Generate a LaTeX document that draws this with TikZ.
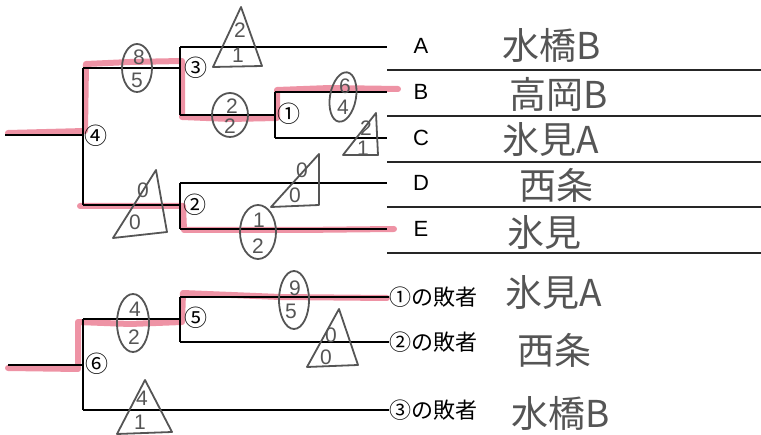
\documentclass[tikz,border=0pt]{standalone}
\usepackage{fontspec}
\setmainfont{Liberation Sans}
\newfontfamily\jp{Noto Sans CJK JP}
\definecolor{pinkhl}{RGB}{234,120,142}
\definecolor{handgray}{RGB}{85,85,85}
\begin{document}
\begin{tikzpicture}[x=1pt,y=-1pt,
  br/.style={line width=1.4pt, black},
  rule/.style={line width=1.5pt, black!85},
  hl/.style={line width=6pt, pinkhl, opacity=0.8, line cap=round, line join=round},
  hand/.style={line width=1.8pt, handgray, line join=round, line cap=round},
  cn/.style={font=\jp\fontsize{23}{23}\selectfont, inner sep=0pt},
  lab/.style={font=\fontsize{22}{22}\selectfont, inner sep=0pt},
  jlab/.style={font=\jp\fontsize{22}{22}\selectfont, anchor=west, inner sep=0pt},
  htext/.style={font=\jp\fontsize{37}{37}\selectfont, text=handgray, inner sep=0pt},
  sc/.style={font=\fontsize{21}{21}\selectfont, text=handgray, inner sep=0pt}]
\useasboundingbox (0,0) rectangle (761,435);

% ---------- highlight (winner paths) ----------
\draw[hl] (8,133) -- (85,131) -- (86,64) -- (130,62) -- (182,61) -- (182,117) -- (230,119) -- (277,118) -- (277,90) -- (330,88) -- (398,89);
\draw[hl] (80,206) -- (183,206) -- (184,230) -- (300,230) -- (394,229);
\draw[hl] (8,368) -- (78,369) -- (78,322) -- (130,324) -- (182,322) -- (183,293) -- (280,297) -- (387,298);

% ---------- coordinates ----------
\coordinate (r4) at (5,135);
\coordinate (v4t) at (83,68);   \coordinate (v4b) at (83,205);
\coordinate (v3t) at (180,47);  \coordinate (v3m) at (180,68);  \coordinate (v3b) at (180,115);
\coordinate (v1t) at (275,92);  \coordinate (v1m) at (275,115); \coordinate (v1b) at (275,138);
\coordinate (v2t) at (180,183); \coordinate (v2m) at (180,205); \coordinate (v2b) at (180,229);
\coordinate (eA) at (387,47); \coordinate (eB) at (387,92); \coordinate (eC) at (387,138);
\coordinate (eD) at (387,183); \coordinate (eE) at (387,229);
\coordinate (r6) at (8,365);
\coordinate (v6t) at (83,319);  \coordinate (v6b) at (83,410);
\coordinate (v5t) at (180,297); \coordinate (v5m) at (180,319); \coordinate (v5b) at (180,342);

% ---------- upper bracket ----------
\draw[br] (r4) -- (83,135);
\draw[br] (v4t) -- (v4b);
\draw[br] (v4t) -- (v3m);
\draw[br] (v3t) -- (v3b);
\draw[br] (v3t) -- (eA);
\draw[br] (v3b) -- (v1m);
\draw[br] (v1t) -- (v1b);
\draw[br] (v1t) -- (eB);
\draw[br] (v1b) -- (eC);
\draw[br] (v4b) -- (v2m);
\draw[br] (v2t) -- (v2b);
\draw[br] (v2t) -- (eD);
\draw[br] (v2b) -- (eE);

\node[cn] (n4) at (96,136) {④};
\node[cn] (n3) at (196,68) {③};
\node[cn] (n1) at (289,114) {①};
\node[cn] (n2) at (195,205) {②};

% ruled lines
\foreach \yy/\nm in {70/ra,116/rb,162/rc,207/rd,253/re}{
  \coordinate (\nm l) at (387,\yy); \coordinate (\nm r) at (761,\yy);
  \draw[rule] (\nm l) -- (\nm r);
}

\node[lab] (lA) at (421,46) {A};
\node[lab] (lB) at (421,92) {B};
\node[lab] (lC) at (421,138) {C};
\node[lab] (lD) at (421,183) {D};
\node[lab] (lE) at (421,229) {E};

% ---------- lower bracket ----------
\draw[br] (r6) -- (83,365);
\draw[br] (v6t) -- (v6b);
\draw[br] (v6t) -- (v5m);
\draw[br] (v5t) -- (v5b);
\node[jlab] (w1) at (389,297) {①の敗者};
\node[jlab] (w2) at (389,342) {②の敗者};
\node[jlab] (w3) at (389,410) {③の敗者};
\draw[br] (v5t) -- (w1.west);
\draw[br] (v5b) -- (w2.west);
\draw[br] (v6b) -- (w3.west);
\node[cn] (n6) at (97,364) {⑥};
\node[cn] (n5) at (196,318) {⑤};

% ---------- handwritten score shapes ----------
\draw[hand] (137,68) ellipse [x radius=15pt, y radius=24pt];
\node[sc] (o1a) at (139,57) {8}; \node[sc] (o1b) at (137,80) {5};
\draw[hand] (230,115) ellipse [x radius=18pt, y radius=22pt];
\node[sc] (o2a) at (232,106) {2}; \node[sc] (o2b) at (230,126) {2};
\draw[hand, rotate around={-10:(343,97)}] (343,97) ellipse [x radius=13pt, y radius=25pt];
\node[sc] (o3a) at (345,86) {6}; \node[sc] (o3b) at (343,107) {4};
\draw[hand] (258,232) ellipse [x radius=18pt, y radius=27pt];
\node[sc] (o4a) at (259,220) {1}; \node[sc] (o4b) at (258,246) {2};
\draw[hand] (133,323) ellipse [x radius=16pt, y radius=29pt];
\node[sc] (o5a) at (135,309) {4}; \node[sc] (o5b) at (134,337) {2};
\draw[hand] (294,300) ellipse [x radius=15pt, y radius=29pt];
\node[sc] (o6a) at (295,288) {9}; \node[sc] (o6b) at (291,311) {5};

\draw[hand] (241,7) -- (262,66) -- (213,67) -- cycle;
\node[sc] (t1a) at (240,30) {2}; \node[sc] (t1b) at (238,55) {1};
\draw[hand] (376,113) -- (378,155) -- (343,155) -- cycle;
\node[sc] (t2a) at (366,128) {2}; \node[sc] (t2b) at (363,148) {1};
\draw[hand] (156,170) -- (167,232) -- (113,238) -- cycle;
\node[sc] (t3a) at (143,190) {0}; \node[sc] (t3b) at (135,222) {0};
\draw[hand] (319,154) -- (319,205) -- (271,207) -- cycle;
\node[sc] (t4a) at (302,170) {0}; \node[sc] (t4b) at (295,195) {0};
\draw[hand] (339,309) -- (358,365) -- (307,367) -- cycle;
\node[sc] (t5a) at (331,335) {0}; \node[sc] (t5b) at (326,357) {0};
\draw[hand] (145,380) -- (172,432) -- (117,434) -- cycle;
\node[sc] (t6a) at (142,398) {4}; \node[sc] (t6b) at (140,422) {1};

% ---------- handwritten names ----------
\node[htext] (h1) at (552,45) {水橋B};
\node[htext] (h2) at (559,94) {高岡B};
\node[htext] (h3) at (551,140) {氷見A};
\node[htext] (h4) at (556,185) {西条};
\node[htext] (h5) at (544,233) {氷見};
\node[htext] (h6) at (554,293) {氷見A};
\node[htext] (h7) at (554,350) {西条};
\node[htext] (h8) at (561,413) {水橋B};
\end{tikzpicture}
\end{document}
